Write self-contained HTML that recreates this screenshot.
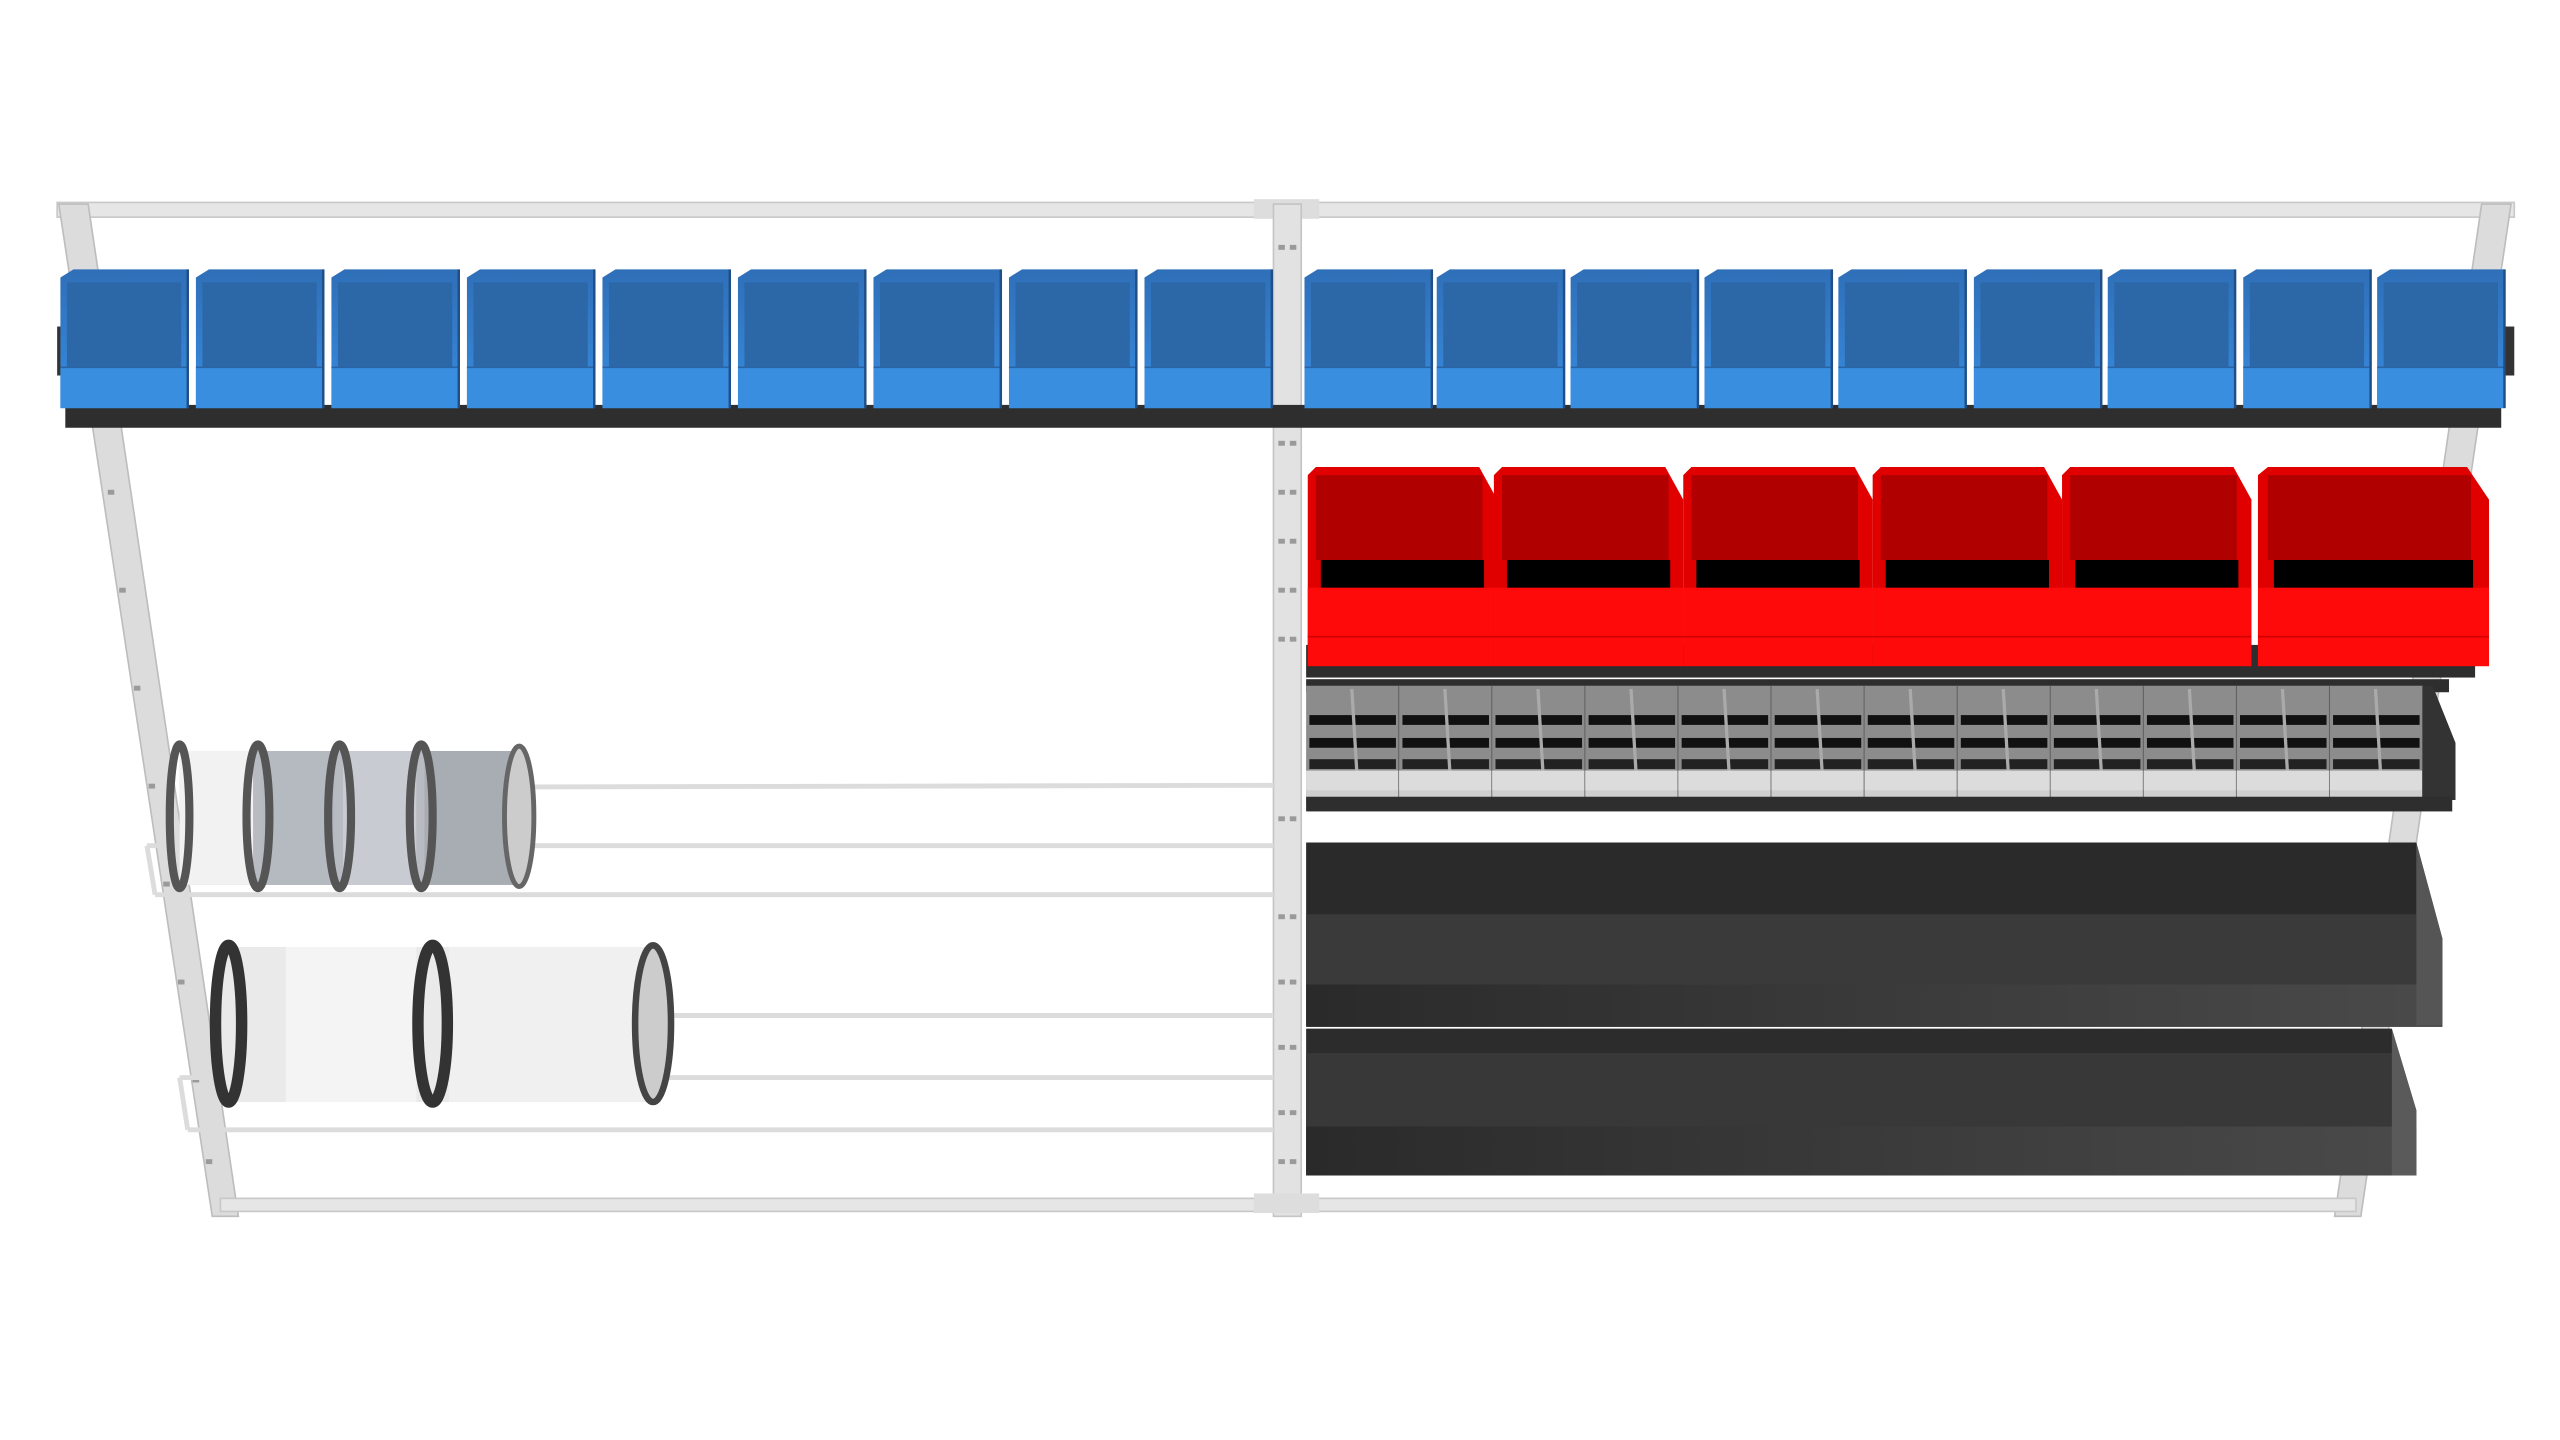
<!DOCTYPE html>
<html><head><meta charset="utf-8"><style>html,body{margin:0;padding:0;background:#fff}svg{display:block}</style></head><body>
<svg width="2560" height="1440" viewBox="0 0 1568 882" preserveAspectRatio="none" xmlns="http://www.w3.org/2000/svg">
<defs>
<linearGradient id="blue" x1="0" y1="0" x2="0" y2="1"><stop offset="0" stop-color="#2f6fb8"/><stop offset="0.7" stop-color="#3583d4"/><stop offset="1" stop-color="#3b8fe0"/></linearGradient>
<linearGradient id="tray" x1="0" y1="0" x2="1" y2="0"><stop offset="0" stop-color="#2a2a2a"/><stop offset="1" stop-color="#4a4a4a"/></linearGradient>
<g id="bb"><path d="M0 5 L8 0 L78 0 L78 85 L0 85 Z" fill="url(#blue)"/><rect x="4" y="8" width="70" height="52" fill="#2c67a8"/><rect x="0" y="60" width="78" height="25" fill="#3a8ee0"/><line x1="0" y1="60" x2="78" y2="60" stroke="#2a64a5" stroke-width="1"/><line x1="78" y1="0" x2="78" y2="85" stroke="#1f4f86" stroke-width="1.5"/></g>
<g id="rb"><path d="M0 5 L5 0 L105 0 L116 20 L116 122 L0 122 Z" fill="#e00000"/><rect x="5" y="5" width="102" height="52" fill="#b00000"/><rect x="8" y="57" width="100" height="17" fill="#000"/><rect x="0" y="74" width="116" height="48" fill="#ff0a0a"/><line x1="0" y1="104" x2="116" y2="104" stroke="#d00000"/></g>
<g id="gb"><rect x="0" y="0" width="57" height="72" fill="#8c8c8c"/><rect x="2" y="18" width="53" height="6" fill="#111"/><rect x="2" y="32" width="53" height="6" fill="#111"/><rect x="2" y="45" width="53" height="6" fill="#222"/><line x1="28" y1="2" x2="31" y2="52" stroke="#aaa" stroke-width="2"/><rect x="0" y="52" width="57" height="20" fill="#cfcfcf"/><rect x="0" y="52" width="57" height="12" fill="#dcdcdc"/><line x1="57" y1="0" x2="57" y2="72" stroke="#555"/></g>
</defs>
<rect width="1568" height="882" fill="#fff"/>
<rect x="35" y="124" width="1505" height="9" fill="#e6e6e6" stroke="#c8c8c8"/>
<rect x="768" y="122" width="40" height="12" fill="#ddd"/>
<polygon points="36,125 54,125 146,745 130,745" fill="#dcdcdc" stroke="#bdbdbd"/>
<rect x="780" y="125" width="17" height="620" fill="#e2e2e2" stroke="#c4c4c4"/>
<polygon points="1520,125 1538,125 1446,745 1430,745" fill="#dcdcdc" stroke="#bdbdbd"/>
<rect x="135" y="734" width="1308" height="8" fill="#e6e6e6" stroke="#c8c8c8"/>
<rect x="768" y="731" width="40" height="12" fill="#ddd"/>
<g fill="#9a9a9a">
<rect x="783" y="150" width="4" height="3"/><rect x="790" y="150" width="4" height="3"/>
<rect x="783" y="270" width="4" height="3"/><rect x="790" y="270" width="4" height="3"/>
<rect x="783" y="300" width="4" height="3"/><rect x="790" y="300" width="4" height="3"/>
<rect x="783" y="330" width="4" height="3"/><rect x="790" y="330" width="4" height="3"/>
<rect x="783" y="360" width="4" height="3"/><rect x="790" y="360" width="4" height="3"/>
<rect x="783" y="390" width="4" height="3"/><rect x="790" y="390" width="4" height="3"/>
<rect x="783" y="500" width="4" height="3"/><rect x="790" y="500" width="4" height="3"/>
<rect x="783" y="560" width="4" height="3"/><rect x="790" y="560" width="4" height="3"/>
<rect x="783" y="600" width="4" height="3"/><rect x="790" y="600" width="4" height="3"/>
<rect x="783" y="640" width="4" height="3"/><rect x="790" y="640" width="4" height="3"/>
<rect x="783" y="680" width="4" height="3"/><rect x="790" y="680" width="4" height="3"/>
<rect x="783" y="710" width="4" height="3"/><rect x="790" y="710" width="4" height="3"/>
<rect x="66" y="300" width="4" height="3"/><rect x="73" y="360" width="4" height="3"/><rect x="82" y="420" width="4" height="3"/><rect x="91" y="480" width="4" height="3"/><rect x="100" y="540" width="4" height="3"/><rect x="109" y="600" width="4" height="3"/><rect x="118" y="660" width="4" height="3"/><rect x="126" y="710" width="4" height="3"/>
<rect x="1502" y="300" width="4" height="3"/><rect x="1494" y="360" width="4" height="3"/><rect x="1485" y="420" width="4" height="3"/><rect x="1476" y="480" width="4" height="3"/><rect x="1467" y="540" width="4" height="3"/><rect x="1458" y="600" width="4" height="3"/><rect x="1449" y="660" width="4" height="3"/><rect x="1441" y="710" width="4" height="3"/>
</g>
<rect x="40" y="248" width="1492" height="14" fill="#2e2e2e"/>
<rect x="35" y="200" width="6" height="30" fill="#333"/><rect x="1534" y="200" width="6" height="30" fill="#333"/>
<use href="#bb" x="37" y="165"/><use href="#bb" x="120" y="165"/><use href="#bb" x="203" y="165"/><use href="#bb" x="286" y="165"/><use href="#bb" x="369" y="165"/><use href="#bb" x="452" y="165"/><use href="#bb" x="535" y="165"/><use href="#bb" x="618" y="165"/><use href="#bb" x="701" y="165"/>
<use href="#bb" x="799" y="165"/><use href="#bb" x="880" y="165"/><use href="#bb" x="962" y="165"/><use href="#bb" x="1044" y="165"/><use href="#bb" x="1126" y="165"/><use href="#bb" x="1209" y="165"/><use href="#bb" x="1291" y="165"/><use href="#bb" x="1374" y="165"/><use href="#bb" x="1456" y="165"/>
<rect x="800" y="395" width="716" height="20" fill="#2e2e2e"/>
<use href="#rb" x="801" y="286"/><use href="#rb" x="915" y="286"/><use href="#rb" x="1031" y="286"/><use href="#rb" x="1147" y="286"/><use href="#rb" x="1263" y="286"/>
<g transform="translate(1383,286) scale(1.22,1)"><use href="#rb"/></g>
<rect x="800" y="416" width="700" height="8" fill="#2e2e2e"/>
<use href="#gb" x="800" y="420"/><use href="#gb" x="857" y="420"/><use href="#gb" x="914" y="420"/><use href="#gb" x="971" y="420"/><use href="#gb" x="1028" y="420"/><use href="#gb" x="1085" y="420"/><use href="#gb" x="1142" y="420"/><use href="#gb" x="1199" y="420"/><use href="#gb" x="1256" y="420"/><use href="#gb" x="1313" y="420"/><use href="#gb" x="1370" y="420"/><use href="#gb" x="1427" y="420"/>
<polygon points="1484,420 1490,420 1504,455 1504,490 1484,490" fill="#333"/>
<rect x="800" y="488" width="702" height="9" fill="#2e2e2e"/>
<polygon points="800,516 1480,516 1496,575 1496,628 800,628" fill="#2a2a2a"/>
<rect x="800" y="560" width="680" height="45" fill="#3a3a3a"/>
<rect x="800" y="603" width="696" height="26" fill="url(#tray)"/>
<polygon points="1480,516 1496,575 1496,628 1480,628" fill="#555"/>
<polygon points="800,630 1465,630 1480,680 1480,720 800,720" fill="#2c2c2c"/>
<rect x="800" y="645" width="665" height="45" fill="#383838"/>
<rect x="800" y="690" width="680" height="30" fill="url(#tray)"/>
<polygon points="1465,630 1480,680 1480,720 1465,720" fill="#5a5a5a"/>
<g stroke="#dcdcdc" stroke-width="3" fill="none">
<line x1="90" y1="518" x2="780" y2="518"/><line x1="95" y1="548" x2="780" y2="548"/><line x1="320" y1="482" x2="780" y2="481"/>
<line x1="110" y1="660" x2="780" y2="660"/><line x1="115" y1="692" x2="780" y2="692"/><line x1="405" y1="622" x2="780" y2="622"/>
<line x1="90" y1="518" x2="95" y2="548"/><line x1="110" y1="660" x2="115" y2="692"/>
</g>
<rect x="110" y="460" width="210" height="82" fill="#b8bcc2"/>
<rect x="110" y="460" width="45" height="82" fill="#f2f2f2"/>
<rect x="160" y="460" width="45" height="82" fill="#b5bac0"/>
<rect x="210" y="460" width="45" height="82" fill="#c8ccd2"/>
<rect x="260" y="460" width="55" height="82" fill="#a8adb3"/>
<g fill="none" stroke="#555" stroke-width="5"><ellipse cx="110" cy="500" rx="6" ry="44"/><ellipse cx="158" cy="500" rx="7" ry="44"/><ellipse cx="208" cy="500" rx="7" ry="44"/><ellipse cx="258" cy="500" rx="7" ry="44"/></g>
<ellipse cx="318" cy="500" rx="9" ry="43" fill="#ccc" stroke="#666" stroke-width="3"/>
<rect x="135" y="580" width="270" height="95" fill="#eaeaea"/>
<rect x="175" y="580" width="80" height="95" fill="#f4f4f4"/>
<rect x="275" y="580" width="120" height="95" fill="#f0f0f0"/>
<g fill="none" stroke="#333" stroke-width="7"><ellipse cx="140" cy="627" rx="8" ry="48"/><ellipse cx="265" cy="627" rx="9" ry="48"/></g>
<ellipse cx="400" cy="627" rx="11" ry="48" fill="#ccc" stroke="#444" stroke-width="4"/>
</svg>
</body></html>
